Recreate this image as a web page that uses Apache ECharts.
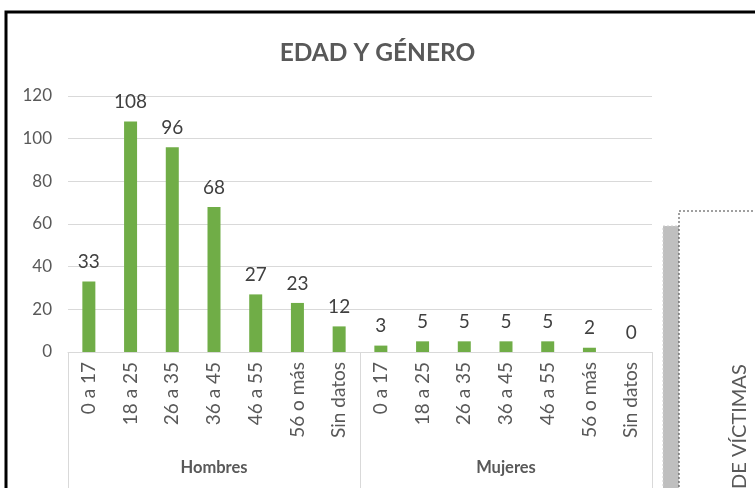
<!DOCTYPE html>
<html>
<head>
<meta charset="utf-8">
<script src="https://cdn.jsdelivr.net/npm/echarts@6/dist/echarts.min.js"></script>
<style>
  html, body { margin: 0; padding: 0; background: #fff; }
  #chart { width: 755px; height: 488px; }
</style>
</head>
<body>
<div id="chart"></div>
<script>
var edades = ['0 a 17', '18 a 25', '26 a 35', '36 a 45', '46 a 55', '56 o más', 'Sin datos'];
var grupos = ['Hombres', 'Mujeres'];
var hombres = [33, 108, 96, 68, 27, 23, 12];
var mujeres = [3, 5, 5, 5, 5, 2, 0];
var yTicks = [0, 20, 40, 60, 80, 100, 120];

var categorias = edades.concat(edades);
var valores = hombres.concat(mujeres);

var myChart = echarts.init(document.getElementById('chart'));
var fuente = 'Lato';

var option = {
    backgroundColor: '#fff',
    animation: false,
    title: {
        text: 'EDAD Y GÉNERO',
        left: 'center',
        top: 36,
        textStyle: { fontFamily: fuente, fontWeight: 'bold', fontSize: 24.5, color: '#595959' }
    },
    grid: { left: 68, right: 103, top: 96, bottom: 136 },
    xAxis: [{
        type: 'category',
        data: categorias,
        axisLine: { lineStyle: { color: '#d9d9d9', width: 1 } },
        axisTick: { show: false },
        axisLabel: {
            rotate: 90, margin: 10, interval: 0,
            fontFamily: fuente, fontSize: 19, color: '#595959'
        }
    }, {
        type: 'category',
        data: grupos,
        position: 'bottom',
        axisLine: { show: false },
        axisTick: { show: true, length: 140, lineStyle: { color: '#d9d9d9' } },
        axisLabel: { margin: 107, fontFamily: fuente, fontWeight: 'bold', fontSize: 16.5, color: '#595959' }
    }],
    yAxis: {
        type: 'value',
        min: yTicks[0],
        max: yTicks[yTicks.length - 1],
        interval: 20,
        axisLine: { show: false },
        axisTick: { show: false },
        axisLabel: { margin: 16, fontFamily: fuente, fontSize: 17, color: '#595959' },
        splitLine: { lineStyle: { color: '#d9d9d9', width: 1 } }
    },
    series: [{
        type: 'bar',
        data: valores,
        barWidth: 13,
        itemStyle: { color: '#70ad47' },
        label: {
            show: true, position: 'top', distance: 10,
            fontFamily: fuente, fontSize: 19, color: '#404040'
        }
    }],
    graphic: [
        // marco del gráfico
        { type: 'rect', shape: { x: 6, y: 12, width: 800, height: 500 },
          style: { fill: 'none', stroke: '#000', lineWidth: 3 }, z: 100 },
        // gráfico superpuesto a la derecha
        { type: 'rect', shape: { x: 663, y: 226, width: 16, height: 280 },
          style: { fill: '#bfbfbf', stroke: '#d0d0d0', lineWidth: 1, lineDash: [2, 2] }, z: 90 },
        { type: 'rect', shape: { x: 679, y: 211, width: 120, height: 300 },
          style: { fill: '#fff', stroke: '#404040', lineWidth: 1, lineDash: [2, 2] }, z: 91 },
        { type: 'text', x: 740, y: 489, rotation: Math.PI / 2, z: 92,
          style: { text: 'DE VÍCTIMAS', fontFamily: fuente, fontSize: 20, fill: '#595959',
                   align: 'left', verticalAlign: 'middle' } }
    ]
};

myChart.setOption(option);
</script>
</body>
</html>
